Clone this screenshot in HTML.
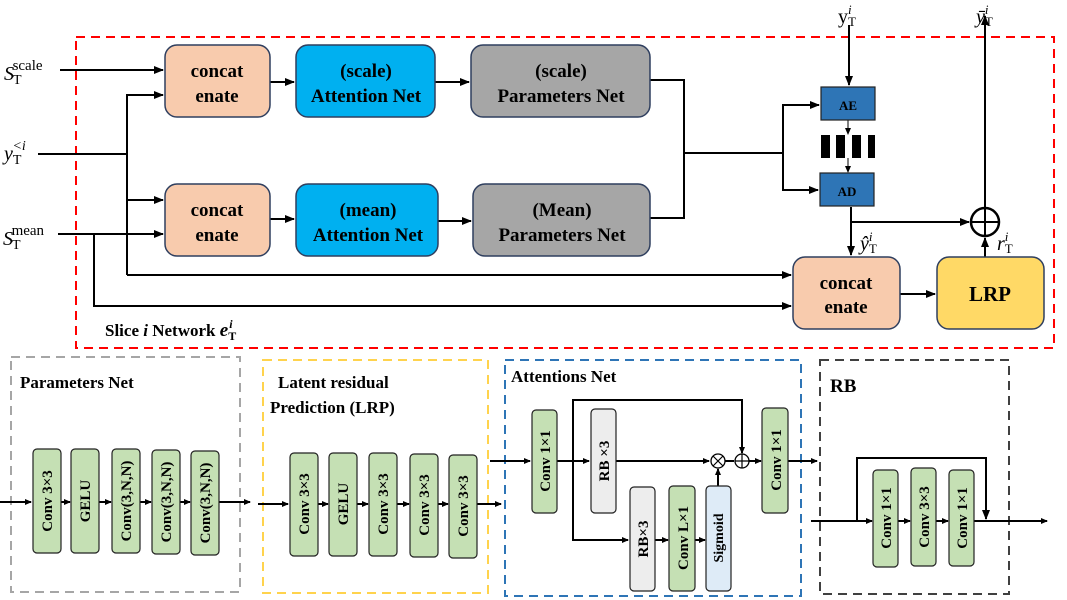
<!DOCTYPE html>
<html><head><meta charset="utf-8"><style>
html,body{margin:0;padding:0;background:#fff;}
svg{display:block;font-family:"Liberation Serif",serif;}
.b{font-weight:bold;}
</style></head><body>
<svg width="1067" height="600" viewBox="0 0 1067 600" xmlns="http://www.w3.org/2000/svg">
<defs>
<marker id="a" markerWidth="10" markerHeight="8" refX="9" refY="4" orient="auto" markerUnits="userSpaceOnUse"><path d="M0,0 L10,4 L0,8 z" fill="#000"/></marker>
<marker id="s" markerWidth="7" markerHeight="6" refX="6" refY="3" orient="auto" markerUnits="userSpaceOnUse"><path d="M0,0 L7,3 L0,6 z" fill="#000"/></marker>
</defs>
<rect x="76" y="37" width="978" height="311" fill="none" stroke="#f00" stroke-width="2" stroke-dasharray="9,6"/>
<g stroke="#000" stroke-width="2" fill="none">
<line x1="60" y1="70" x2="163" y2="70" marker-end="url(#a)"/>
<polyline points="38,154 127,154"/>
<polyline points="127,275 127,95 163,95" marker-end="url(#a)"/>
<line x1="127" y1="200" x2="163" y2="200" marker-end="url(#a)"/>
<line x1="58" y1="234" x2="163" y2="234" marker-end="url(#a)"/>
<line x1="127" y1="275" x2="791" y2="275" marker-end="url(#a)"/>
<polyline points="94,234 94,306 791,306" marker-end="url(#a)"/>
<line x1="270" y1="82" x2="294" y2="82" marker-end="url(#a)"/>
<line x1="435" y1="82" x2="469" y2="82" marker-end="url(#a)"/>
<line x1="270" y1="219" x2="294" y2="219" marker-end="url(#a)"/>
<line x1="438" y1="221" x2="471" y2="221" marker-end="url(#a)"/>
<polyline points="650,80 684,80 684,218 650,218"/>
<line x1="684" y1="153" x2="783" y2="153"/>
<polyline points="819,105 783,105 783,190 818,190"/>
<line x1="783" y1="105" x2="819" y2="105" marker-end="url(#a)"/>
<line x1="783" y1="190" x2="818" y2="190" marker-end="url(#a)"/>
<line x1="849" y1="25" x2="849" y2="85" marker-end="url(#a)"/>
<line x1="851" y1="207" x2="851" y2="255" marker-end="url(#a)"/>
<line x1="851" y1="222" x2="969" y2="222" marker-end="url(#a)"/>
<line x1="985" y1="257" x2="985" y2="238" marker-end="url(#a)"/>
<line x1="985" y1="208" x2="985" y2="16" marker-end="url(#a)"/>
<line x1="900" y1="294" x2="935" y2="294" marker-end="url(#a)"/>
</g>
<g stroke="#000" stroke-width="1" fill="none">
<line x1="848" y1="120" x2="848" y2="134" marker-end="url(#s)"/>
<line x1="848" y1="158" x2="848" y2="172" marker-end="url(#s)"/>
</g>
<circle cx="985" cy="222" r="14" fill="none" stroke="#000" stroke-width="2.5"/>
<line x1="971" y1="222" x2="999" y2="222" stroke="#000" stroke-width="2"/>
<line x1="985" y1="208" x2="985" y2="236" stroke="#000" stroke-width="2"/>
<g stroke="#2f3f5f" stroke-width="1.5">
<rect x="165" y="45" width="105" height="72" rx="12" fill="#f8cbad"/>
<rect x="296" y="45" width="139" height="72" rx="12" fill="#00b0f0"/>
<rect x="471" y="45" width="179" height="72" rx="12" fill="#a6a6a6"/>
<rect x="165" y="184" width="105" height="72" rx="12" fill="#f8cbad"/>
<rect x="296" y="184" width="142" height="72" rx="12" fill="#00b0f0"/>
<rect x="473" y="184" width="177" height="72" rx="12" fill="#a6a6a6"/>
<rect x="793" y="257" width="107" height="72" rx="12" fill="#f8cbad"/>
<rect x="937" y="257" width="107" height="72" rx="12" fill="#ffd966"/>
</g>
<rect x="821" y="87" width="54" height="33" fill="#2e75b6" stroke="#222" stroke-width="1.2"/>
<rect x="820" y="173" width="54" height="33" fill="#2e75b6" stroke="#222" stroke-width="1.2"/>
<rect x="821" y="135" width="54" height="23" fill="#fff"/>
<g fill="#000"><rect x="821" y="135" width="9" height="23"/><rect x="836" y="135" width="9" height="23"/><rect x="852" y="135" width="9" height="23"/><rect x="868" y="135" width="7" height="23"/></g>
<g class="b" font-size="19" text-anchor="middle">
<text x="217" y="77">concat</text><text x="217" y="102">enate</text>
<text x="217" y="216">concat</text><text x="217" y="241">enate</text>
<text x="846" y="289">concat</text><text x="846" y="313">enate</text>
<text x="366" y="77">(scale)</text><text x="366" y="102">Attention Net</text>
<text x="368" y="216">(mean)</text><text x="368" y="241">Attention Net</text>
<text x="561" y="77">(scale)</text><text x="561" y="102">Parameters Net</text>
<text x="562" y="216">(Mean)</text><text x="562" y="241">Parameters Net</text>
<text x="990" y="301" font-size="21">LRP</text>
<text x="848" y="110" font-size="13">AE</text>
<text x="847" y="196" font-size="13">AD</text>
</g>
<g font-size="20">
<text x="4" y="80" font-style="italic">S<tspan font-style="normal" font-size="14" dx="-1" dy="4">T</tspan><tspan font-style="normal" font-size="15" dx="-9" dy="-14">scale</tspan></text>
<text x="4" y="160" font-style="italic">y<tspan font-style="normal" font-size="14" dy="4">T</tspan><tspan font-size="14" dx="-9" dy="-14">&lt;i</tspan></text>
<text x="3" y="245" font-style="italic">S<tspan font-style="normal" font-size="14" dx="-1" dy="4">T</tspan><tspan font-style="normal" font-size="15" dx="-9" dy="-14">mean</tspan></text>
<text x="838" y="23">y<tspan font-size="13" dy="3">T</tspan><tspan font-size="13" font-style="italic" dx="-8" dy="-12">i</tspan></text>
<text x="976" y="23" font-style="italic">ȳ<tspan font-style="normal" font-size="13" dy="3">T</tspan><tspan font-size="13" dx="-8" dy="-12">i</tspan></text>
<text x="860" y="250" font-style="italic">ŷ<tspan font-style="normal" font-size="13" dy="3">T</tspan><tspan font-size="13" dx="-8" dy="-12">i</tspan></text>
<text x="997" y="250" font-style="italic">r<tspan font-style="normal" font-size="13" dy="3">T</tspan><tspan font-size="13" dx="-8" dy="-12">i</tspan></text>
</g>
<text x="105" y="336" class="b" font-size="17">Slice <tspan font-style="italic">i</tspan> Network  <tspan font-style="italic" font-size="19">e</tspan><tspan font-size="12" dy="4">T</tspan><tspan font-size="12" font-style="italic" dx="-7" dy="-12">i</tspan></text>

<rect x="11" y="357" width="229" height="235" fill="none" stroke="#a6a6a6" stroke-width="2" stroke-dasharray="9,6"/>
<rect x="263" y="360" width="225" height="233" fill="none" stroke="#ffd34d" stroke-width="2" stroke-dasharray="9,6"/>
<rect x="505" y="360" width="296" height="236" fill="none" stroke="#2e75b6" stroke-width="2" stroke-dasharray="9,6"/>
<rect x="820" y="360" width="189" height="234" fill="none" stroke="#404040" stroke-width="2" stroke-dasharray="9,6"/>
<g class="b" font-size="17">
<text x="20" y="388">Parameters Net</text>
<text x="278" y="388">Latent residual</text>
<text x="270" y="413">Prediction (LRP)</text>
<text x="511" y="382">Attentions Net</text>
<text x="830" y="392" font-size="19">RB</text>
</g>
<g stroke="#000" stroke-width="2" fill="none">
<line x1="0" y1="502" x2="31" y2="502" marker-end="url(#s)"/>
<line x1="61" y1="502" x2="70" y2="502" marker-end="url(#s)"/>
<line x1="99" y1="502" x2="111" y2="502" marker-end="url(#s)"/>
<line x1="140" y1="502" x2="151" y2="502" marker-end="url(#s)"/>
<line x1="180" y1="502" x2="190" y2="502" marker-end="url(#s)"/>
<line x1="219" y1="502" x2="250" y2="502" marker-end="url(#s)"/>
<line x1="258" y1="504" x2="288" y2="504" marker-end="url(#s)"/>
<line x1="318" y1="504" x2="328" y2="504" marker-end="url(#s)"/>
<line x1="357" y1="504" x2="368" y2="504" marker-end="url(#s)"/>
<line x1="397" y1="504" x2="409" y2="504" marker-end="url(#s)"/>
<line x1="438" y1="504" x2="448" y2="504" marker-end="url(#s)"/>
<line x1="477" y1="504" x2="501" y2="504" marker-end="url(#s)"/>
<line x1="490" y1="461" x2="530" y2="461" marker-end="url(#s)"/>
<line x1="557" y1="461" x2="589" y2="461" marker-end="url(#s)"/>
<line x1="616" y1="461" x2="709" y2="461" marker-end="url(#s)"/>
<polyline points="573,461 573,400 742,400 742,453" marker-end="url(#s)"/>
<polyline points="573,461 573,540 628,540" marker-end="url(#s)"/>
<line x1="655" y1="540" x2="668" y2="540" marker-end="url(#s)"/>
<line x1="695" y1="540" x2="705" y2="540" marker-end="url(#s)"/>
<line x1="718" y1="486" x2="718" y2="469" marker-end="url(#s)"/>
<line x1="725" y1="461" x2="734" y2="461"/>
<line x1="749" y1="461" x2="761" y2="461" marker-end="url(#s)"/>
<line x1="788" y1="461" x2="817" y2="461" marker-end="url(#s)"/>
<line x1="811" y1="521" x2="872" y2="521" marker-end="url(#s)"/>
<line x1="898" y1="521" x2="910" y2="521" marker-end="url(#s)"/>
<line x1="936" y1="521" x2="948" y2="521" marker-end="url(#s)"/>
<line x1="974" y1="521" x2="1047" y2="521" marker-end="url(#s)"/>
<polyline points="857,521 857,458 986,458 986,519" marker-end="url(#a)"/>
</g>
<circle cx="718" cy="461" r="7" fill="#fff" stroke="#000" stroke-width="1.3"/>
<path d="M713,456 L723,466 M723,456 L713,466" stroke="#000" stroke-width="1.2"/>
<circle cx="742" cy="461" r="7" fill="#fff" stroke="#000" stroke-width="1.3"/>
<path d="M735,461 H749 M742,454 V468" stroke="#000" stroke-width="1.2"/>
<g stroke="#222" stroke-width="1.2">
<g fill="#c5e0b4">
<rect x="33" y="449" width="28" height="104" rx="4"/><rect x="71" y="449" width="28" height="104" rx="4"/>
<rect x="112" y="449" width="28" height="104" rx="4"/><rect x="152" y="450" width="28" height="104" rx="4"/>
<rect x="191" y="451" width="28" height="104" rx="4"/>
<rect x="290" y="453" width="28" height="103" rx="4"/><rect x="329" y="453" width="28" height="103" rx="4"/>
<rect x="369" y="453" width="28" height="103" rx="4"/><rect x="410" y="454" width="28" height="103" rx="4"/>
<rect x="449" y="455" width="28" height="103" rx="4"/>
<rect x="532" y="410" width="25" height="103" rx="4"/><rect x="669" y="486" width="26" height="105" rx="4"/>
<rect x="762" y="408" width="26" height="105" rx="4"/>
<rect x="873" y="470" width="25" height="97" rx="4"/><rect x="911" y="468" width="25" height="98" rx="4"/>
<rect x="949" y="470" width="25" height="96" rx="4"/>
</g>
<rect x="591" y="409" width="25" height="104" rx="4" fill="#ededed"/>
<rect x="630" y="487" width="25" height="104" rx="4" fill="#ededed"/>
<rect x="706" y="486" width="25" height="105" rx="4" fill="#deebf7"/>
</g>
<g class="b" font-size="15" text-anchor="middle">
<text transform="translate(52,501) rotate(-90)">Conv 3×3</text>
<text transform="translate(90,501) rotate(-90)">GELU</text>
<text transform="translate(131,501) rotate(-90)">Conv(3,N,N)</text>
<text transform="translate(171,502) rotate(-90)">Conv(3,N,N)</text>
<text transform="translate(210,503) rotate(-90)">Conv(3,N,N)</text>
<text transform="translate(309,504) rotate(-90)">Conv 3×3</text>
<text transform="translate(348,504) rotate(-90)">GELU</text>
<text transform="translate(388,504) rotate(-90)">Conv 3×3</text>
<text transform="translate(429,505) rotate(-90)">Conv 3×3</text>
<text transform="translate(468,506) rotate(-90)">Conv 3×3</text>
<text transform="translate(550,461) rotate(-90)">Conv 1×1</text>
<text transform="translate(609,461) rotate(-90)">RB ×3</text>
<text transform="translate(648,539) rotate(-90)">RB×3</text>
<text transform="translate(688,538) rotate(-90)">Conv L×1</text>
<text transform="translate(723,538) rotate(-90)" font-size="14">Sigmoid</text>
<text transform="translate(781,460) rotate(-90)">Conv 1×1</text>
<text transform="translate(891,518) rotate(-90)">Conv 1×1</text>
<text transform="translate(929,517) rotate(-90)">Conv 3×3</text>
<text transform="translate(967,518) rotate(-90)">Conv 1×1</text>
</g>
</svg>
</body></html>
